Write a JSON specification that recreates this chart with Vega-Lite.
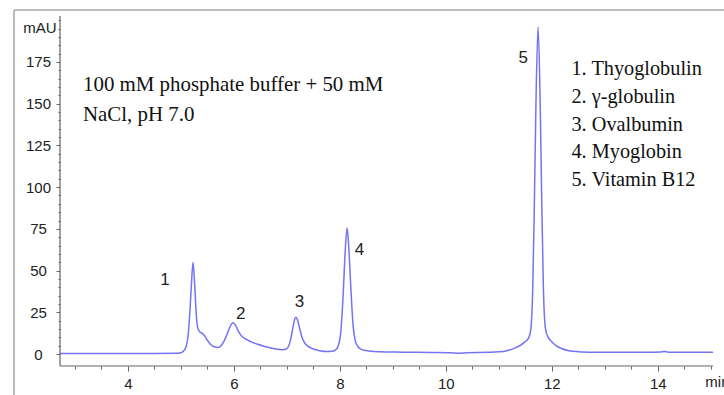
{
  "$schema": "https://vega.github.io/schema/vega-lite/v6.json",
  "width": 710,
  "height": 385,
  "autosize": {"type": "none"},
  "padding": {"left": 14, "top": 10, "right": 0, "bottom": 0},
  "background": "white",
  "config": {"view": {"stroke": null}},
  "datasets": {
    "trace": [
      {"t": 2.72, "mAU": 0.3}, {"t": 3.5, "mAU": 0.3}, {"t": 4.5, "mAU": 0.3}, {"t": 4.9, "mAU": 0.4},
      {"t": 5.0, "mAU": 0.8}, {"t": 5.05, "mAU": 1.8}, {"t": 5.1, "mAU": 4.5}, {"t": 5.14, "mAU": 12},
      {"t": 5.17, "mAU": 25}, {"t": 5.2, "mAU": 42}, {"t": 5.23, "mAU": 55}, {"t": 5.26, "mAU": 42},
      {"t": 5.29, "mAU": 24}, {"t": 5.32, "mAU": 15.5}, {"t": 5.36, "mAU": 13.2}, {"t": 5.4, "mAU": 12.5},
      {"t": 5.45, "mAU": 10.8}, {"t": 5.5, "mAU": 8.3}, {"t": 5.56, "mAU": 5.8}, {"t": 5.63, "mAU": 4.3},
      {"t": 5.7, "mAU": 3.9}, {"t": 5.76, "mAU": 5}, {"t": 5.82, "mAU": 8}, {"t": 5.88, "mAU": 12.5},
      {"t": 5.93, "mAU": 16.5}, {"t": 5.98, "mAU": 18.8}, {"t": 6.03, "mAU": 17.3}, {"t": 6.08, "mAU": 14},
      {"t": 6.14, "mAU": 11}, {"t": 6.2, "mAU": 9.3}, {"t": 6.27, "mAU": 8.2}, {"t": 6.35, "mAU": 7},
      {"t": 6.45, "mAU": 5.8}, {"t": 6.55, "mAU": 4.8}, {"t": 6.68, "mAU": 3.8}, {"t": 6.8, "mAU": 3},
      {"t": 6.92, "mAU": 2.6}, {"t": 6.98, "mAU": 2.8}, {"t": 7.03, "mAU": 4.5}, {"t": 7.07, "mAU": 8.5},
      {"t": 7.11, "mAU": 15}, {"t": 7.14, "mAU": 20}, {"t": 7.17, "mAU": 22}, {"t": 7.2, "mAU": 20.5},
      {"t": 7.24, "mAU": 15.5}, {"t": 7.28, "mAU": 10.5}, {"t": 7.33, "mAU": 7}, {"t": 7.4, "mAU": 4.6},
      {"t": 7.5, "mAU": 3}, {"t": 7.62, "mAU": 2}, {"t": 7.75, "mAU": 1.5}, {"t": 7.85, "mAU": 1.6},
      {"t": 7.92, "mAU": 2.5}, {"t": 7.97, "mAU": 5}, {"t": 8.02, "mAU": 14}, {"t": 8.06, "mAU": 34},
      {"t": 8.1, "mAU": 61}, {"t": 8.137, "mAU": 75.5}, {"t": 8.17, "mAU": 63}, {"t": 8.21, "mAU": 38},
      {"t": 8.25, "mAU": 17}, {"t": 8.29, "mAU": 8}, {"t": 8.34, "mAU": 4.5}, {"t": 8.42, "mAU": 2.6},
      {"t": 8.55, "mAU": 1.8}, {"t": 8.75, "mAU": 1.3}, {"t": 9.2, "mAU": 1.1}, {"t": 9.7, "mAU": 0.9},
      {"t": 10.1, "mAU": 0.7}, {"t": 10.25, "mAU": 0.5}, {"t": 10.4, "mAU": 0.8}, {"t": 10.8, "mAU": 1},
      {"t": 11.0, "mAU": 1.3}, {"t": 11.15, "mAU": 2}, {"t": 11.3, "mAU": 3.5}, {"t": 11.42, "mAU": 5.5},
      {"t": 11.5, "mAU": 7.5}, {"t": 11.56, "mAU": 9.5}, {"t": 11.6, "mAU": 14}, {"t": 11.64, "mAU": 40},
      {"t": 11.67, "mAU": 90}, {"t": 11.7, "mAU": 150}, {"t": 11.74, "mAU": 196}, {"t": 11.78, "mAU": 150},
      {"t": 11.81, "mAU": 90}, {"t": 11.84, "mAU": 40}, {"t": 11.88, "mAU": 15}, {"t": 11.93, "mAU": 10},
      {"t": 11.98, "mAU": 8}, {"t": 12.03, "mAU": 6.3}, {"t": 12.08, "mAU": 5}, {"t": 12.18, "mAU": 3.3},
      {"t": 12.32, "mAU": 2}, {"t": 12.5, "mAU": 1.4}, {"t": 12.8, "mAU": 1.1}, {"t": 13.3, "mAU": 1},
      {"t": 13.8, "mAU": 1}, {"t": 14.05, "mAU": 1.2}, {"t": 14.12, "mAU": 1.5}, {"t": 14.2, "mAU": 1.1},
      {"t": 14.6, "mAU": 1}, {"t": 15.04, "mAU": 1}
    ],
    "peaks": [
      {"t": 4.70, "mAU": 44.3, "label": "1", "fs": 17},
      {"t": 6.13, "mAU": 24, "label": "2", "fs": 17},
      {"t": 7.24, "mAU": 31.3, "label": "3", "fs": 17},
      {"t": 8.37, "mAU": 62.3, "label": "4", "fs": 17},
      {"t": 11.46, "mAU": 177.2, "label": "5", "fs": 17},
      {"t": 2.34, "mAU": 195.4, "label": "mAU", "fs": 15}
    ],
    "notes": [
      {"t": 3.154, "mAU": 157.6, "label": "100 mM phosphate buffer + 50 mM", "fs": 20.9},
      {"t": 3.154, "mAU": 139.5, "label": "NaCl, pH 7.0", "fs": 20.9},
      {"t": 12.37, "mAU": 167.2, "label": "1. Thyoglobulin", "fs": 20.3},
      {"t": 12.37, "mAU": 150.2, "label": "2. γ-globulin", "fs": 20.3},
      {"t": 12.37, "mAU": 133.8, "label": "3. Ovalbumin", "fs": 20.3},
      {"t": 12.37, "mAU": 117.6, "label": "4. Myoglobin", "fs": 20.3},
      {"t": 12.37, "mAU": 100.7, "label": "5. Vitamin B12", "fs": 20.3}
    ],
    "frame": [
      {"xa": 1.852, "xb": 1.852, "ya": -24.57, "yb": 206.16},
      {"xa": 1.852, "xb": 15.248, "ya": 206.16, "yb": 206.16}
    ],
    "axislines": [
      {"xa": 2.72, "xb": 2.72, "ya": -7.19, "yb": 202.56},
      {"xa": 2.72, "xb": 15.04, "ya": -7.19, "yb": -7.19}
    ]
  },
  "resolve": {"axis": {"y": "independent", "x": "independent"}},
  "layer": [
    {
      "data": {"name": "trace"},
      "mark": {"type": "line", "color": "#7373f5", "strokeWidth": 1.5, "interpolate": "monotone"},
      "encoding": {
        "x": {
          "field": "t", "type": "quantitative",
          "scale": {"domain": [1.852, 15.248], "zero": false, "nice": false},
          "axis": {
            "orient": "bottom",
            "offset": -29,
            "title": null,
            "values": [3, 3.5, 4, 4.5, 5, 5.5, 6, 6.5, 7, 7.5, 8, 8.5, 9, 9.5, 10, 10.5, 11, 11.5, 12, 12.5, 13, 13.5, 14, 14.5, 15],
            "labelExpr": "datum.value == 15 ? 'min' : (datum.value % 2 == 0 ? format(datum.value, 'd') : '')",
            "labelOverlap": false,
            "labelFont": "Liberation Sans",
            "labelFontSize": 15,
            "labelColor": "#222222",
            "labelPadding": 5,
            "labelAlign": {"condition": {"test": "datum.value == 15", "value": "left"}, "value": "center"},
            "labelOffset": {"condition": {"test": "datum.value == 15", "value": -6}, "value": 0},
            "labelFlush": false,
            "labelBound": false,
            "domain": false,
            "tickColor": "#666666",
            "tickSize": {"condition": {"test": "datum.value % 2 == 0", "value": 5}, "value": 3},
            "grid": false
          }
        },
        "y": {
          "field": "mAU", "type": "quantitative",
          "scale": {"domain": [-24.57, 206.16], "zero": false, "nice": false},
          "axis": {
            "orient": "left",
            "offset": -46,
            "title": null,
            "values": [0, 25, 50, 75, 100, 125, 150, 175],
            "labelFont": "Liberation Sans",
            "labelFontSize": 15,
            "labelColor": "#222222",
            "labelAlign": "center",
            "labelPadding": 18,
            "labelOverlap": false,
            "labelBound": false,
            "domain": false,
            "tickColor": "#666666",
            "tickSize": 4,
            "grid": false
          }
        }
      }
    },
    {
      "data": {"name": "axislines"},
      "mark": {"type": "rule", "color": "#666666", "strokeWidth": 1.2, "clip": false},
      "encoding": {
        "x": {"field": "xa", "type": "quantitative", "axis": null},
        "x2": {"field": "xb"},
        "y": {"field": "ya", "type": "quantitative", "axis": {"orient": "left", "offset": -46, "title": null, "values": [5, 10, 15, 20, 30, 35, 40, 45, 55, 60, 65, 70, 80, 85, 90, 95, 105, 110, 115, 120, 130, 135, 140, 145, 155, 160, 165, 170, 180, 185, 190, 195, 200], "labels": false, "domain": false, "tickSize": 2, "tickColor": "#666666", "grid": false}},
        "y2": {"field": "yb"}
      }
    },
    {
      "data": {"name": "frame"},
      "mark": {"type": "rule", "color": "#a8a8a8", "strokeWidth": 1.6, "clip": false},
      "encoding": {
        "x": {"field": "xa", "type": "quantitative", "axis": null},
        "x2": {"field": "xb"},
        "y": {"field": "ya", "type": "quantitative", "axis": null},
        "y2": {"field": "yb"}
      }
    },
    {
      "data": {"name": "peaks"},
      "mark": {"type": "text", "font": "Liberation Sans", "color": "#222222", "align": "center", "baseline": "middle"},
      "encoding": {
        "x": {"field": "t", "type": "quantitative", "axis": null},
        "y": {"field": "mAU", "type": "quantitative", "axis": null},
        "text": {"field": "label"},
        "size": {"field": "fs", "type": "quantitative", "scale": null}
      }
    },
    {
      "data": {"name": "notes"},
      "mark": {"type": "text", "font": "Liberation Serif", "color": "#111111", "align": "left", "baseline": "alphabetic"},
      "encoding": {
        "x": {"field": "t", "type": "quantitative", "axis": null},
        "y": {"field": "mAU", "type": "quantitative", "axis": null},
        "text": {"field": "label"},
        "size": {"field": "fs", "type": "quantitative", "scale": null}
      }
    }
  ]
}
